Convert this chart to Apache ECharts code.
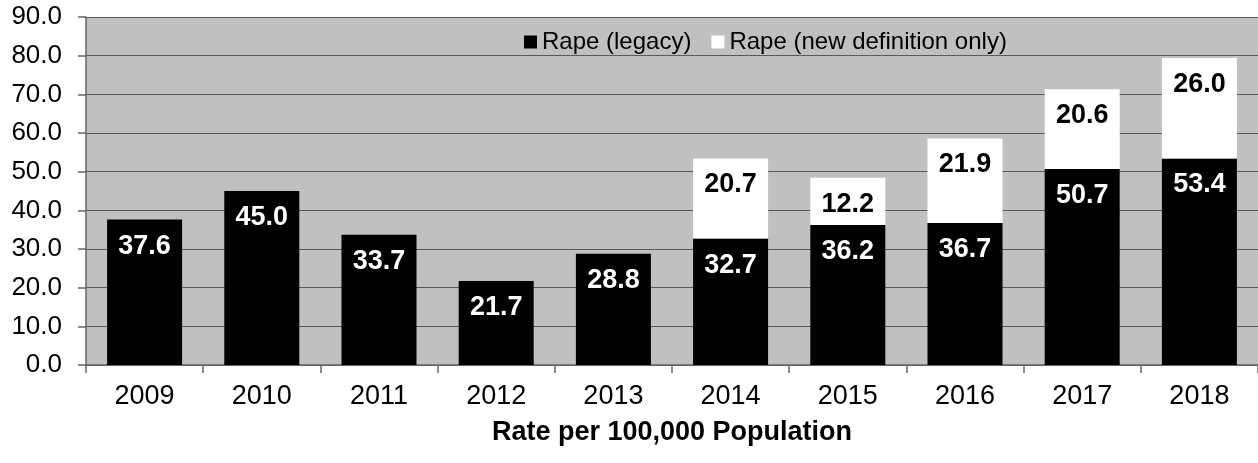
<!DOCTYPE html>
<html>
<head>
<meta charset="utf-8">
<script src="https://cdn.jsdelivr.net/npm/echarts@6/dist/echarts.min.js"></script>
<style>
html,body{margin:0;padding:0;background:#fff;}
#c{width:1258px;height:463px;}
</style>
</head>
<body>
<div id="c"></div>
<script>
const categories = ['2009','2010','2011','2012','2013','2014','2015','2016','2017','2018'];
const legacyValues = [37.6, 45.0, 33.7, 21.7, 28.8, 32.7, 36.2, 36.7, 50.7, 53.4];
const newDefValues = [null, null, null, null, null, 20.7, 12.2, 21.9, 20.6, 26.0];
const seriesNames = ['Rape (legacy)', 'Rape (new definition only)'];
const axisName = 'Rate per 100,000 Population';

const FONT = '"Liberation Sans", Arial, sans-serif';
const chart = echarts.init(document.getElementById('c'), null, {renderer: 'canvas'});
chart.setOption({
  animation: false,
  backgroundColor: '#ffffff',
  textStyle: {fontFamily: FONT},
  grid: {
    left: 86, top: 17, width: 1173, height: 348,
    show: true, backgroundColor: '#c0c0c0', borderWidth: 0
  },
  legend: {
    left: 519, top: 25,
    icon: 'rect', itemWidth: 13, itemHeight: 13, itemGap: 20,
    textStyle: {fontFamily: FONT, fontSize: 24, color: '#000'},
    data: [
      {name: seriesNames[0], itemStyle: {color: '#000'}},
      {name: seriesNames[1], itemStyle: {color: '#fff'}}
    ]
  },
  xAxis: {
    type: 'category',
    data: categories,
    name: axisName,
    nameLocation: 'middle',
    nameGap: 54,
    nameTextStyle: {fontFamily: FONT, fontSize: 27, fontWeight: 'bold', color: '#000'},
    axisLine: {show: true, lineStyle: {color: '#666', width: 1.5}},
    axisTick: {show: true, length: 8, lineStyle: {color: '#666', width: 1.5}},
    axisLabel: {fontFamily: FONT, fontSize: 27, color: '#000', margin: 18},
    splitLine: {show: false}
  },
  yAxis: {
    type: 'value',
    min: 0, max: 90, interval: 10,
    axisLine: {show: true, lineStyle: {color: '#666', width: 1.5}},
    axisTick: {show: true, length: 8, lineStyle: {color: '#666', width: 1.5}},
    axisLabel: {fontFamily: FONT, fontSize: 26, color: '#000', margin: 24,
      formatter: v => v.toFixed(1)},
    splitLine: {show: true, lineStyle: {color: '#5a5a5a', width: 1.2}}
  },
  series: [
    {
      name: seriesNames[0], type: 'bar', stack: 'total',
      data: legacyValues, barWidth: 75,
      itemStyle: {color: '#000'},
      label: {show: true, position: 'insideTop', distance: 13,
        fontFamily: FONT, fontSize: 27, fontWeight: 'bold', color: '#fff',
        formatter: p => p.value == null ? '' : Number(p.value).toFixed(1)}
    },
    {
      name: seriesNames[1], type: 'bar', stack: 'total',
      data: newDefValues, barWidth: 75,
      itemStyle: {color: '#fff'},
      label: {show: true, position: 'insideTop', distance: 13,
        fontFamily: FONT, fontSize: 27, fontWeight: 'bold', color: '#000',
        formatter: p => p.value == null ? '' : Number(p.value).toFixed(1)}
    }
  ]
});
</script>
</body>
</html>
